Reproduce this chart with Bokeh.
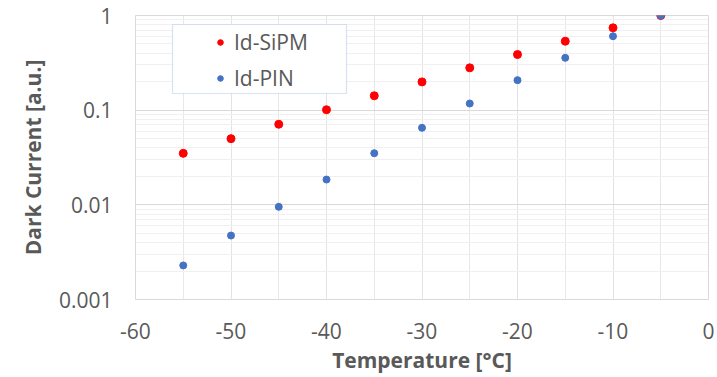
from bokeh.plotting import figure
from bokeh.models import (FixedTicker, CustomJSTickFormatter, Legend, LegendItem,
                          BoxAnnotation, Range1d)
from bokeh.embed import file_html
from bokeh.resources import INLINE

# ---- data ----
temperature = [-55, -50, -45, -40, -35, -30, -25, -20, -15, -10, -5]
id_sipm = [0.035, 0.050, 0.071, 0.101, 0.142, 0.199, 0.280, 0.387, 0.535, 0.741, 1.0]
id_pin = [0.00229, 0.00474, 0.00953, 0.0185, 0.0351, 0.0651, 0.1176, 0.2075, 0.357, 0.604, 1.0]
series_names = ["Id-SiPM", "Id-PIN"]
x_ticks = [-60, -50, -40, -30, -20, -10, 0]
x_minor = [-55, -45, -35, -25, -15, -5]
y_ticks = [0.001, 0.01, 0.1, 1]
y_minor = [k * d for d in [0.001, 0.01, 0.1] for k in range(2, 10)]

FONT = "Open Sans"
GRAY = "#595959"

p = figure(width=717, height=377, output_backend="svg", toolbar_location=None,
           y_axis_type="log", x_range=Range1d(-60, 0), y_range=Range1d(0.001, 1),
           min_border_left=135, min_border_right=9, min_border_top=15, min_border_bottom=78)

p.outline_line_color = "#d9d9d9"
p.background_fill_color = "white"
p.border_fill_color = "white"

# axes
p.xaxis.ticker = FixedTicker(ticks=x_ticks, minor_ticks=x_minor)
p.yaxis.ticker = FixedTicker(ticks=y_ticks, minor_ticks=y_minor)
p.xaxis.formatter = CustomJSTickFormatter(code="return tick.toString();")
p.yaxis.formatter = CustomJSTickFormatter(code="return Number(tick.toPrecision(3)).toString();")
for ax in (p.xaxis, p.yaxis):
    ax.axis_line_color = None
    ax.major_tick_line_color = None
    ax.minor_tick_line_color = None
    ax.major_label_text_font = FONT
    ax.major_label_text_font_size = "21px"
    ax.major_label_text_color = GRAY
    ax.axis_label_text_font = FONT
    ax.axis_label_text_font_size = "21px"
    ax.axis_label_text_font_style = "bold"
    ax.axis_label_text_color = GRAY
p.xaxis.axis_label = "Temperature [°C]"
p.yaxis.axis_label = "Dark Current [a.u.]"
p.xaxis.major_label_standoff = 17
p.yaxis.major_label_standoff = 17
p.xaxis.axis_label_standoff = 4
p.yaxis.axis_label_standoff = 9

# grids
p.xgrid.grid_line_color = "#e3e3e3"
p.xgrid.minor_grid_line_color = "#e8e8e8"
p.ygrid.grid_line_color = "#d9d9d9"
p.ygrid.minor_grid_line_color = "#f0f0f0"

# data
r_sipm = p.scatter(temperature, id_sipm, size=8, color="#ff0000", line_color="#ff0000")
r_pin = p.scatter(temperature, id_pin, size=7, color="#4472c4", line_color="#4472c4")

# legend frame
box = BoxAnnotation(left=37, right=211, bottom=206, top=275,
                    left_units="screen", right_units="screen",
                    bottom_units="screen", top_units="screen",
                    fill_color="white", fill_alpha=1.0,
                    line_color="#7f9fd6", line_width=1.2, level="annotation")
p.add_layout(box)

legend = Legend(items=[LegendItem(label=series_names[0], renderers=[r_sipm]),
                       LegendItem(label=series_names[1], renderers=[r_pin])],
                location=(78, 206), margin=0, padding=0, spacing=6,
                glyph_width=14, glyph_height=30, label_height=30, label_standoff=7,
                label_text_font=FONT, label_text_font_size="21px", label_text_color=GRAY,
                border_line_alpha=0, background_fill_alpha=0)
p.add_layout(legend)

open("out.html", "w").write(file_html(p, INLINE))
